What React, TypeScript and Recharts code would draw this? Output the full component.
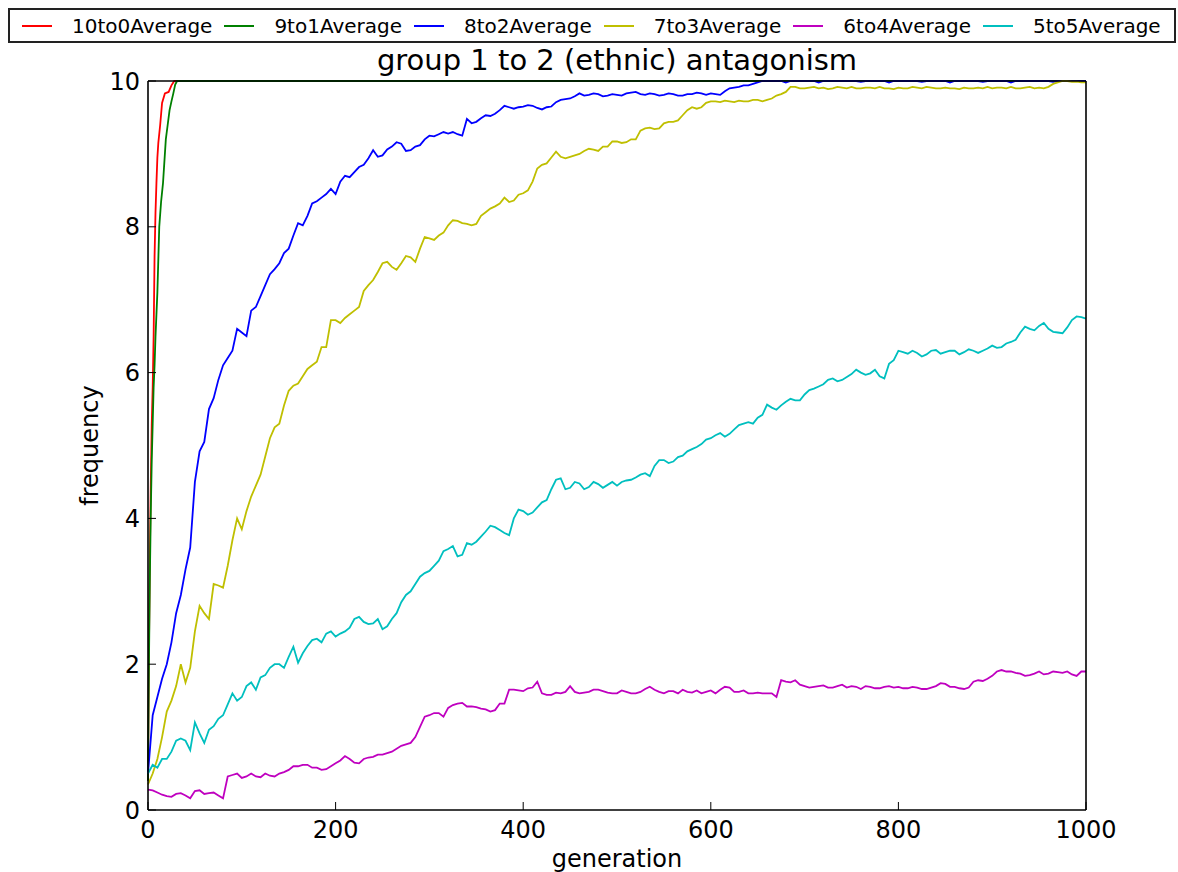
import React from 'react';
import { LineChart, Line, XAxis, YAxis } from 'recharts';

const title = 'group 1 to 2 (ethnic) antagonism';
const xLabel = 'generation';
const yLabel = 'frequency';
const seriesNames = ['10to0Average', '9to1Average', '8to2Average', '7to3Average', '6to4Average', '5to5Average'];
const xTicks = [0, 200, 400, 600, 800, 1000];
const yTicks = [0, 2, 4, 6, 8, 10];

const gens5 = [
  0, 5, 10, 15, 20, 25, 30, 35, 40, 45,
  50, 55, 60, 65, 70, 75, 80, 85, 90, 95,
  100, 105, 110, 115, 120, 125, 130, 135, 140, 145,
  150, 155, 160, 165, 170, 175, 180, 185, 190, 195,
  200, 205, 210, 215, 220, 225, 230, 235, 240, 245,
  250, 255, 260, 265, 270, 275, 280, 285, 290, 295,
  300, 305, 310, 315, 320, 325, 330, 335, 340, 345,
  350, 355, 360, 365, 370, 375, 380, 385, 390, 395,
  400, 405, 410, 415, 420, 425, 430, 435, 440, 445,
  450, 455, 460, 465, 470, 475, 480, 485, 490, 495,
  500, 505, 510, 515, 520, 525, 530, 535, 540, 545,
  550, 555, 560, 565, 570, 575, 580, 585, 590, 595,
  600, 605, 610, 615, 620, 625, 630, 635, 640, 645,
  650, 655, 660, 665, 670, 675, 680, 685, 690, 695,
  700, 705, 710, 715, 720, 725, 730, 735, 740, 745,
  750, 755, 760, 765, 770, 775, 780, 785, 790, 795,
  800, 805, 810, 815, 820, 825, 830, 835, 840, 845,
  850, 855, 860, 865, 870, 875, 880, 885, 890, 895,
  900, 905, 910, 915, 920, 925, 930, 935, 940, 945,
  950, 955, 960, 965, 970, 975, 980, 985, 990, 995,
  1000,
];

const redGens = [0, 1, 2, 3, 4, 5, 6, 7, 8, 9, 10, 11, 13, 15, 18, 22, 25, 28, 100, 200, 300, 400, 500, 600, 700, 800, 900, 1000];
const redVals = [0.4, 2.2, 3.5, 4.5, 5.3, 5.8, 6.5, 7.6, 8.2, 8.6, 8.95, 9.15, 9.4, 9.7, 9.83, 9.85, 9.94, 10, 10, 10, 10, 10, 10, 10, 10, 10, 10, 10];

const greenGens = [0, 1, 2, 3, 4, 5, 6, 7, 8, 9, 10, 12, 14, 16, 19, 21, 23, 25, 27, 29, 31, 100, 200, 300, 400, 500, 600, 700, 800, 900, 1000];
const greenVals = [0.4, 2.0, 3.2, 4.1, 4.8, 5.3, 5.8, 6.1, 6.5, 6.8, 7.1, 8.0, 8.35, 8.6, 9.2, 9.4, 9.6, 9.72, 9.83, 9.95, 10, 10, 10, 10, 10, 10, 10, 10, 10, 10, 10];

const blueVals = [
  0.5, 1.3, 1.55, 1.8, 2.0, 2.3, 2.7, 2.95, 3.3, 3.6,
  4.5, 4.92, 5.05, 5.5, 5.65, 5.9, 6.1, 6.2, 6.3, 6.6,
  6.55, 6.5, 6.85, 6.9, 7.05, 7.2, 7.35, 7.42, 7.5, 7.64,
  7.7, 7.88, 8.05, 8.02, 8.15, 8.32, 8.35, 8.4, 8.45, 8.52,
  8.45, 8.62, 8.7, 8.68, 8.75, 8.82, 8.85, 8.94, 9.05, 8.96,
  8.98, 9.06, 9.1, 9.16, 9.14, 9.04, 9.05, 9.1, 9.12, 9.2,
  9.25, 9.24, 9.27, 9.3, 9.28, 9.3, 9.27, 9.25, 9.48, 9.42,
  9.44, 9.49, 9.53, 9.52, 9.55, 9.6, 9.66, 9.64, 9.62, 9.64,
  9.65, 9.67, 9.66, 9.63, 9.61, 9.64, 9.65, 9.71, 9.74, 9.75,
  9.76, 9.79, 9.83, 9.8, 9.81, 9.83, 9.82, 9.79, 9.8, 9.82,
  9.81, 9.8, 9.83, 9.84, 9.85, 9.82, 9.81, 9.83, 9.82, 9.8,
  9.81, 9.83, 9.82, 9.8, 9.8, 9.82, 9.82, 9.84, 9.83, 9.81,
  9.83, 9.82, 9.81, 9.86, 9.9, 9.91, 9.92, 9.94, 9.94, 9.96,
  9.98, 10, 10, 10, 10, 10, 9.98, 10, 10, 10,
  10, 10, 10, 9.98, 10, 10, 10, 10, 10, 10,
  10, 10, 9.99, 10, 10, 10, 10, 10, 9.98, 10,
  10, 10, 10, 10, 10, 9.99, 10, 10, 10, 10,
  10, 9.98, 10, 10, 10, 10, 10, 10, 9.99, 10,
  10, 10, 10, 10, 9.98, 10, 10, 10, 10, 10,
  10, 10, 10, 9.99, 10, 10, 10, 10, 10, 10,
  10,
];

const yellowVals = [
  0.35, 0.5, 0.7, 1.0, 1.35, 1.5, 1.7, 2.0, 1.75, 1.95,
  2.45, 2.8, 2.7, 2.62, 3.1, 3.08, 3.05, 3.35, 3.7, 4.0,
  3.85, 4.1, 4.3, 4.45, 4.6, 4.85, 5.1, 5.25, 5.3, 5.55,
  5.75, 5.82, 5.85, 5.95, 6.05, 6.1, 6.15, 6.35, 6.35, 6.72,
  6.72, 6.68, 6.75, 6.8, 6.85, 6.9, 7.12, 7.2, 7.27, 7.38,
  7.5, 7.52, 7.45, 7.41, 7.5, 7.6, 7.58, 7.52, 7.7, 7.86,
  7.84, 7.82, 7.88, 7.92, 8.02, 8.09, 8.08, 8.05, 8.04, 8.02,
  8.04, 8.15, 8.2, 8.25, 8.28, 8.32, 8.4, 8.34, 8.36, 8.44,
  8.46, 8.5, 8.62, 8.8, 8.85, 8.87, 8.95, 9.03, 8.96, 8.94,
  8.96, 8.98, 9.0, 9.04, 9.07, 9.06, 9.04, 9.1, 9.1, 9.17,
  9.17, 9.15, 9.16, 9.2, 9.2, 9.32, 9.35, 9.36, 9.34, 9.35,
  9.42, 9.44, 9.44, 9.46, 9.53, 9.6, 9.64, 9.62, 9.64, 9.7,
  9.72, 9.72, 9.71, 9.73, 9.72, 9.71, 9.73, 9.72, 9.72, 9.74,
  9.74, 9.72, 9.74, 9.76, 9.8, 9.82, 9.85, 9.92, 9.92, 9.9,
  9.9, 9.91, 9.92, 9.9, 9.91, 9.89, 9.9, 9.92, 9.91, 9.9,
  9.92, 9.9, 9.9, 9.91, 9.91, 9.9, 9.92, 9.9, 9.9, 9.89,
  9.91, 9.9, 9.9, 9.92, 9.91, 9.9, 9.92, 9.91, 9.9, 9.9,
  9.91, 9.9, 9.9, 9.89, 9.91, 9.9, 9.9, 9.91, 9.9, 9.92,
  9.9, 9.91, 9.91, 9.9, 9.92, 9.9, 9.9, 9.91, 9.92, 9.9,
  9.91, 9.9, 9.92, 9.96, 9.98, 10, 10, 9.99, 9.99, 9.98,
  9.98,
];

const magentaVals = [
  0.28, 0.27, 0.24, 0.21, 0.19, 0.18, 0.22, 0.23, 0.2, 0.16,
  0.26, 0.27, 0.22, 0.23, 0.24, 0.2, 0.16, 0.46, 0.48, 0.5,
  0.44, 0.46, 0.5, 0.46, 0.45, 0.5, 0.47, 0.46, 0.5, 0.52,
  0.55, 0.6, 0.6, 0.62, 0.62, 0.58, 0.58, 0.55, 0.56, 0.6,
  0.64, 0.68, 0.74, 0.7, 0.65, 0.64, 0.7, 0.72, 0.73, 0.76,
  0.76, 0.78, 0.8, 0.84, 0.88, 0.9, 0.92, 1.0, 1.14, 1.28,
  1.3, 1.33, 1.33, 1.28, 1.4, 1.44, 1.46, 1.47, 1.42, 1.42,
  1.41, 1.39, 1.38, 1.35, 1.37, 1.46, 1.46, 1.65, 1.65, 1.64,
  1.63, 1.67, 1.68, 1.76, 1.6, 1.58, 1.58, 1.61, 1.6, 1.62,
  1.7, 1.62, 1.6, 1.61, 1.62, 1.65, 1.65, 1.63, 1.61, 1.6,
  1.6, 1.64, 1.62, 1.6, 1.6, 1.62, 1.66, 1.69, 1.65, 1.62,
  1.6, 1.63, 1.63, 1.6, 1.65, 1.62, 1.61, 1.64, 1.6, 1.62,
  1.64, 1.6, 1.65, 1.69, 1.68, 1.62, 1.62, 1.64, 1.6, 1.6,
  1.61, 1.6, 1.6, 1.6, 1.55, 1.78, 1.76, 1.75, 1.78, 1.72,
  1.7, 1.68, 1.69, 1.7, 1.71, 1.68, 1.68, 1.7, 1.72, 1.68,
  1.7, 1.69, 1.66, 1.7, 1.69, 1.67, 1.67, 1.69, 1.7, 1.68,
  1.69, 1.67, 1.67, 1.69, 1.68, 1.66, 1.66, 1.68, 1.7, 1.74,
  1.73, 1.69, 1.69, 1.67, 1.66, 1.68, 1.76, 1.78, 1.77, 1.8,
  1.84, 1.9, 1.92, 1.9, 1.9, 1.88, 1.87, 1.84, 1.85, 1.87,
  1.9, 1.86, 1.87, 1.9, 1.89, 1.88, 1.9, 1.86, 1.84, 1.9,
  1.9,
];

const cyanVals = [
  0.5, 0.62, 0.58, 0.7, 0.7, 0.8, 0.95, 0.98, 0.95, 0.82,
  1.2, 1.05, 0.92, 1.1, 1.15, 1.25, 1.3, 1.45, 1.6, 1.5,
  1.55, 1.7, 1.75, 1.65, 1.82, 1.85, 1.95, 2.0, 2.0, 1.95,
  2.1, 2.24, 2.02, 2.15, 2.25, 2.33, 2.35, 2.3, 2.42, 2.45,
  2.38, 2.42, 2.45, 2.5, 2.62, 2.65, 2.58, 2.55, 2.56, 2.62,
  2.48, 2.52, 2.62, 2.7, 2.85, 2.95, 3.0, 3.1, 3.2, 3.25,
  3.28, 3.35, 3.42, 3.55, 3.58, 3.62, 3.48, 3.5, 3.66, 3.64,
  3.68, 3.75, 3.82, 3.9, 3.88, 3.84, 3.8, 3.77, 4.0, 4.12,
  4.1, 4.05, 4.08, 4.15, 4.22, 4.25, 4.4, 4.53, 4.55, 4.4,
  4.42, 4.5, 4.48, 4.4, 4.43, 4.5, 4.47, 4.42, 4.46, 4.5,
  4.45, 4.5, 4.52, 4.53, 4.56, 4.6, 4.62, 4.58, 4.72, 4.8,
  4.8, 4.76, 4.78, 4.84, 4.86, 4.92, 4.95, 4.98, 5.02, 5.08,
  5.1, 5.14, 5.17, 5.12, 5.16, 5.22, 5.28, 5.3, 5.32, 5.3,
  5.38, 5.42, 5.56, 5.52, 5.49, 5.55, 5.6, 5.64, 5.62, 5.62,
  5.7, 5.76, 5.78, 5.81, 5.84, 5.9, 5.92, 5.88, 5.9, 5.94,
  5.98, 6.04, 6.0, 5.97, 5.99, 6.04, 5.95, 5.92, 6.12, 6.17,
  6.3, 6.28, 6.26, 6.3, 6.27, 6.22, 6.25, 6.3, 6.31, 6.26,
  6.28, 6.3, 6.3, 6.25, 6.28, 6.32, 6.3, 6.27, 6.3, 6.33,
  6.37, 6.34, 6.35, 6.4, 6.42, 6.45, 6.55, 6.63, 6.6, 6.58,
  6.64, 6.68, 6.6, 6.56, 6.55, 6.54, 6.62, 6.72, 6.77, 6.76,
  6.74,
];

const seriesColors = ['#ff0000', '#008000', '#0000ff', '#bfbf00', '#bf00bf', '#00bfbf'];

const toPoints = (gens: number[], vals: number[]) => gens.map((g, i) => ({ gen: g, value: vals[i] }));

const seriesData = [
  toPoints(redGens, redVals),
  toPoints(greenGens, greenVals),
  toPoints(gens5, blueVals),
  toPoints(gens5, yellowVals),
  toPoints(gens5, magentaVals),
  toPoints(gens5, cyanVals),
];

const FONT = '"DejaVu Sans", sans-serif';

export default function App() {
  return (
    <div
      style={{
        position: 'absolute',
        left: 0,
        top: 0,
        width: 1178,
        height: 872,
        background: '#fff',
        fontFamily: FONT,
        overflow: 'hidden',
      }}
    >
      <div
        style={{
          position: 'absolute',
          left: 8,
          top: 8,
          width: 1168,
          height: 35,
          boxSizing: 'border-box',
          border: '2px solid #222',
          display: 'flex',
          alignItems: 'center',
          paddingLeft: 12,
          fontSize: 20,
          color: '#000',
          whiteSpace: 'nowrap',
        }}
      >
        {seriesNames.map((name, i) => (
          <div key={name} style={{ display: 'flex', alignItems: 'center' }}>
            <div style={{ width: 30, height: 2, background: seriesColors[i], marginRight: 20 }} />
            <span style={{ marginRight: 12 }}>{name}</span>
          </div>
        ))}
      </div>
      <div
        style={{
          position: 'absolute',
          left: 148,
          width: 938,
          top: 43,
          lineHeight: '34px',
          fontSize: 29,
          textAlign: 'center',
          color: '#000',
          whiteSpace: 'nowrap',
        }}
      >
        {title}
      </div>
      <LineChart
        width={1178}
        height={872}
        margin={{ top: 80, right: 91, bottom: 32, left: 88 }}
        style={{ position: 'absolute', left: 0, top: 0, fontFamily: FONT }}
      >
        <XAxis
          xAxisId="bottom"
          dataKey="gen"
          type="number"
          domain={[0, 1000]}
          ticks={xTicks}
          height={30}
          tickSize={-8}
          tickMargin={19}
          axisLine={{ stroke: '#000', strokeWidth: 1.6 }}
          tickLine={{ stroke: '#000', strokeWidth: 1 }}
          tick={{ fill: '#000', fontSize: 24, fontFamily: FONT }}
          label={{ value: xLabel, position: 'bottom', offset: 10, style: { fontSize: 24, fill: '#000', fontFamily: FONT } }}
        />
        <XAxis
          xAxisId="top"
          orientation="top"
          type="number"
          domain={[0, 1000]}
          ticks={xTicks}
          height={1}
          tickSize={-8}
          axisLine={{ stroke: '#000', strokeWidth: 1.6 }}
          tickLine={{ stroke: '#000', strokeWidth: 1 }}
          tick={false}
        />
        <YAxis
          yAxisId="left"
          type="number"
          domain={[0, 10]}
          ticks={yTicks}
          width={60}
          tickSize={-8}
          tickMargin={16}
          axisLine={{ stroke: '#000', strokeWidth: 1.6 }}
          tickLine={{ stroke: '#000', strokeWidth: 1 }}
          tick={{ fill: '#000', fontSize: 24, fontFamily: FONT }}
          label={{ value: yLabel, angle: -90, position: 'insideLeft', offset: 1, style: { fontSize: 24, fill: '#000', textAnchor: 'middle', fontFamily: FONT } }}
        />
        <YAxis
          yAxisId="right"
          orientation="right"
          type="number"
          domain={[0, 10]}
          ticks={yTicks}
          width={1}
          tickSize={-8}
          axisLine={{ stroke: '#000', strokeWidth: 1.6 }}
          tickLine={{ stroke: '#000', strokeWidth: 1 }}
          tick={false}
        />
        {seriesNames.map((name, i) => (
          <Line
            key={name}
            name={name}
            xAxisId="bottom"
            yAxisId="left"
            data={seriesData[i]}
            dataKey="value"
            type="linear"
            stroke={seriesColors[i]}
            strokeWidth={1.8}
            dot={false}
            activeDot={false}
            isAnimationActive={false}
          />
        ))}
      </LineChart>
    </div>
  );
}
